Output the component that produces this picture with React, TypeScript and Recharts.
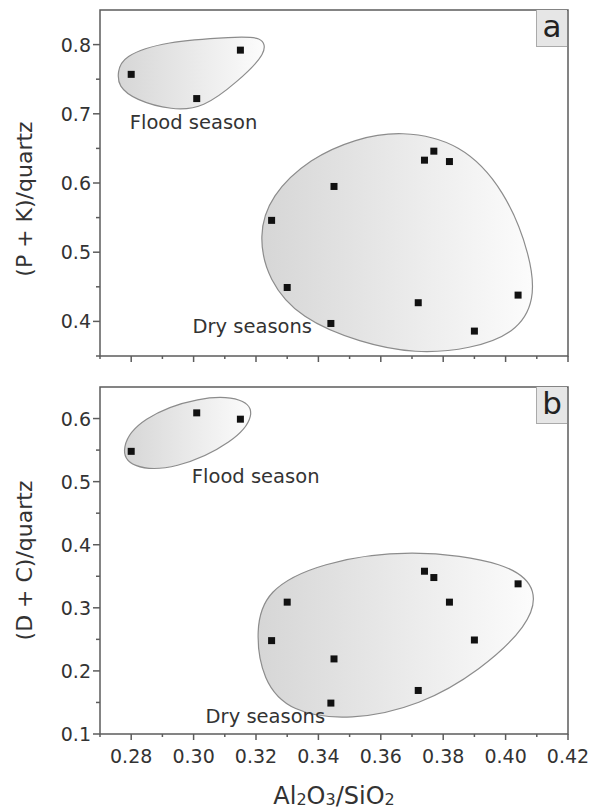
import React from "react";
import { ScatterChart, Scatter, XAxis, YAxis, ReferenceArea, ReferenceDot } from "recharts";

const FONT = "'DejaVu Sans', 'Liberation Sans', Arial, sans-serif";
const INK = "#333333";
const AXIS = "#5c5c5c";

// Al2O3/SiO2 of every sample (same samples in both panels)
const floodX = [0.28, 0.301, 0.315];
const dryX = [0.325, 0.33, 0.344, 0.345, 0.372, 0.374, 0.377, 0.382, 0.39, 0.404];

// (P + K)/quartz
const floodPK = [0.757, 0.722, 0.792];
const dryPK = [0.546, 0.449, 0.397, 0.595, 0.427, 0.633, 0.646, 0.631, 0.386, 0.438];

// (D + C)/quartz
const floodDC = [0.548, 0.609, 0.599];
const dryDC = [0.248, 0.309, 0.149, 0.219, 0.169, 0.358, 0.348, 0.309, 0.249, 0.338];

// ticks
const xMajor = [0.28, 0.3, 0.32, 0.34, 0.36, 0.38, 0.4, 0.42];
const xMinor = [0.27, 0.29, 0.31, 0.33, 0.35, 0.37, 0.39, 0.41];
const yMajorA = [0.4, 0.5, 0.6, 0.7, 0.8];
const yMinorA = [0.35, 0.45, 0.55, 0.65, 0.75];
const yMajorB = [0.1, 0.2, 0.3, 0.4, 0.5, 0.6];
const yMinorB = [0.15, 0.25, 0.35, 0.45, 0.55];

// hand drawn group outlines (spline control points, data units)
const floodBlobA = [
  [0.2757, 0.76], [0.2771, 0.783], [0.2909, 0.805], [0.3133, 0.811], [0.322, 0.812],
  [0.3239, 0.789], [0.314, 0.746], [0.3031, 0.708], [0.2931, 0.705], [0.2812, 0.72], [0.2758, 0.74],
];
const dryBlobA = [
  [0.3663, 0.676], [0.3856, 0.659], [0.4, 0.589], [0.408, 0.495], [0.4096, 0.43],
  [0.4032, 0.383], [0.3888, 0.36], [0.3711, 0.353], [0.3535, 0.369], [0.3342, 0.404],
  [0.3239, 0.459], [0.3207, 0.524], [0.3246, 0.582], [0.3374, 0.636], [0.3519, 0.664],
];
const floodBlobB = [
  [0.2764, 0.553], [0.2828, 0.601], [0.3021, 0.636], [0.3165, 0.633], [0.3198, 0.606],
  [0.3133, 0.563], [0.2941, 0.518], [0.2796, 0.521],
];
const dryBlobB = [
  [0.323, 0.328], [0.3406, 0.372], [0.3695, 0.394], [0.4016, 0.372], [0.4106, 0.328],
  [0.4074, 0.272], [0.392, 0.201], [0.3727, 0.145], [0.3503, 0.121], [0.331, 0.134],
  [0.322, 0.185], [0.3198, 0.264],
];

const notesA = [
  { x: 0.3, y: 0.688, text: "Flood season" },
  { x: 0.3188, y: 0.392, text: "Dry seasons" },
];
const notesB = [
  { x: 0.3199, y: 0.508, text: "Flood season" },
  { x: 0.323, y: 0.127, text: "Dry seasons" },
];

const isMajor = (v: number, step: number) => Math.abs(v / step - Math.round(v / step)) < 1e-6;

const XTick = (props: any) => {
  const { x, y, payload, showLabels } = props;
  const major = isMajor(payload.value, 0.02);
  return (
    <g>
      <line x1={x} x2={x} y1={y} y2={y + (major ? 6 : 3)} stroke={AXIS} strokeWidth={1.5} />
      {showLabels && major && (
        <text x={x} y={y + 29} textAnchor="middle" fontSize={19} fill={INK} fontFamily={FONT}>
          {payload.value.toFixed(2)}
        </text>
      )}
    </g>
  );
};

const YTick = (props: any) => {
  const { x, y, payload } = props;
  const major = isMajor(payload.value, 0.1);
  return (
    <g>
      <line x1={x} x2={x - (major ? 7 : 4)} y1={y} y2={y} stroke={AXIS} strokeWidth={1.5} />
      {major && (
        <text x={x - 9} y={y + 7} textAnchor="end" fontSize={19} fill={INK} fontFamily={FONT}>
          {payload.value.toFixed(1)}
        </text>
      )}
    </g>
  );
};

const YTitle = (props: any) => {
  const { viewBox, text, shift } = props;
  const cx = 24;
  const cy = viewBox.y + viewBox.height / 2 + (shift || 0);
  return (
    <text x={cx} y={cy} transform={`rotate(-90 ${cx} ${cy})`} textAnchor="middle"
      dominantBaseline="central" fontSize={22} fill={INK} fontFamily={FONT}>
      {text}
    </text>
  );
};

const XTitle = (props: any) => {
  const { viewBox } = props;
  const cx = viewBox.x + viewBox.width / 2;
  return (
    <text x={cx} y={viewBox.y + 70} textAnchor="middle" fontSize={24} fill={INK} fontFamily={FONT}>
      Al<tspan fontSize={16} dy={1}>2</tspan>
      <tspan dy={-1}>O</tspan>
      <tspan fontSize={16} dy={1}>3</tspan>
      <tspan dy={-1}>/SiO</tspan>
      <tspan fontSize={16} dy={1}>2</tspan>
    </text>
  );
};

const Square = (p: any) => <rect x={p.cx - 3.5} y={p.cy - 3.5} width={7} height={7} fill="#111" />;

function Panel(props: any) {
  const { top, height, xAxisHeight, yDomain, yMajor, yMinor, floodY, dryY, floodBlob, dryBlob,
    notes, yTitle, titleShift, tag, showXLabels, gid } = props;
  const flood = floodX.map((x, i) => ({ x, y: floodY[i] }));
  const dry = dryX.map((x, i) => ({ x, y: dryY[i] }));
  const pts = (b: number[][]) => b.map(([x, y]) => ({ x, y }));
  const xTicks = [...xMinor, ...xMajor].sort((a, b) => a - b);
  const yTicks = [...yMinor, ...yMajor].sort((a, b) => a - b);
  return (
    <div style={{ position: "absolute", left: 0, top, width: 595, height }}>
      <ScatterChart width={595} height={height} margin={{ top: 10, right: 27, bottom: 0, left: 0 }}>
        <defs>
          <linearGradient id={gid} x1="0" y1="0" x2="1" y2="0">
            <stop offset="0%" stopColor="#d6d6d6" />
            <stop offset="100%" stopColor="#fcfcfc" />
          </linearGradient>
        </defs>
        <XAxis type="number" dataKey="x" domain={[0.27, 0.42]} allowDataOverflow ticks={xTicks}
          interval={0} tickSize={0} tickMargin={0} axisLine={false} tickLine={false}
          height={xAxisHeight} tick={<XTick showLabels={showXLabels} />}
          label={showXLabels ? <XTitle /> : undefined} />
        <YAxis type="number" dataKey="y" domain={yDomain} allowDataOverflow ticks={yTicks}
          interval={0} tickSize={0} tickMargin={0} axisLine={false} tickLine={false} width={100}
          tick={<YTick />} label={<YTitle text={yTitle} shift={titleShift} />} />
        <Scatter data={pts(floodBlob)} isAnimationActive={false} legendType="none"
          line={{ stroke: "#8c8c8c", strokeWidth: 1.2, fill: `url(#${gid})` }}
          lineJointType="basisClosed" shape={() => <g />} />
        <Scatter data={pts(dryBlob)} isAnimationActive={false} legendType="none"
          line={{ stroke: "#8c8c8c", strokeWidth: 1.2, fill: `url(#${gid})` }}
          lineJointType="basisClosed" shape={() => <g />} />
        <ReferenceArea x1={0.27} x2={0.42} y1={yDomain[0]} y2={yDomain[1]} fill="none"
          stroke={AXIS} strokeWidth={1.5} />
        <Scatter data={flood} isAnimationActive={false} shape={Square} />
        <Scatter data={dry} isAnimationActive={false} shape={Square} />
        {notes.map((n: any) => (
          <ReferenceDot key={n.text} x={n.x} y={n.y} r={0}
            shape={(p: any) => (
              <text x={p.cx} y={p.cy} textAnchor="middle" dominantBaseline="central"
                fontSize={19.5} fill={INK} fontFamily={FONT}>{n.text}</text>
            )} />
        ))}
      </ScatterChart>
      <div style={{
        position: "absolute", left: 536, top: 10, width: 31, height: 37, background: "#e6e6e6",
        borderLeft: "1px solid #aaa", borderBottom: "1px solid #aaa", boxSizing: "border-box",
        fontFamily: FONT, fontSize: 31, color: "#222", textAlign: "center", lineHeight: "33px",
      }}>{tag}</div>
    </div>
  );
}

export default function App() {
  return (
    <div style={{ position: "absolute", left: 0, top: 0, width: 595, height: 812, background: "#fff" }}>
      <Panel top={0} height={380} xAxisHeight={24} yDomain={[0.35, 0.85]} yMajor={yMajorA}
        yMinor={yMinorA} floodY={floodPK} dryY={dryPK} floodBlob={floodBlobA} dryBlob={dryBlobA}
        notes={notesA} yTitle="(P + K)/quartz" titleShift={16} tag="a" showXLabels={false} gid="gradA" />
      <Panel top={377} height={435} xAxisHeight={78} yDomain={[0.1, 0.65]} yMajor={yMajorB}
        yMinor={yMinorB} floodY={floodDC} dryY={dryDC} floodBlob={floodBlobB} dryBlob={dryBlobB}
        notes={notesB} yTitle="(D + C)/quartz" titleShift={0} tag="b" showXLabels={true} gid="gradB" />
    </div>
  );
}
